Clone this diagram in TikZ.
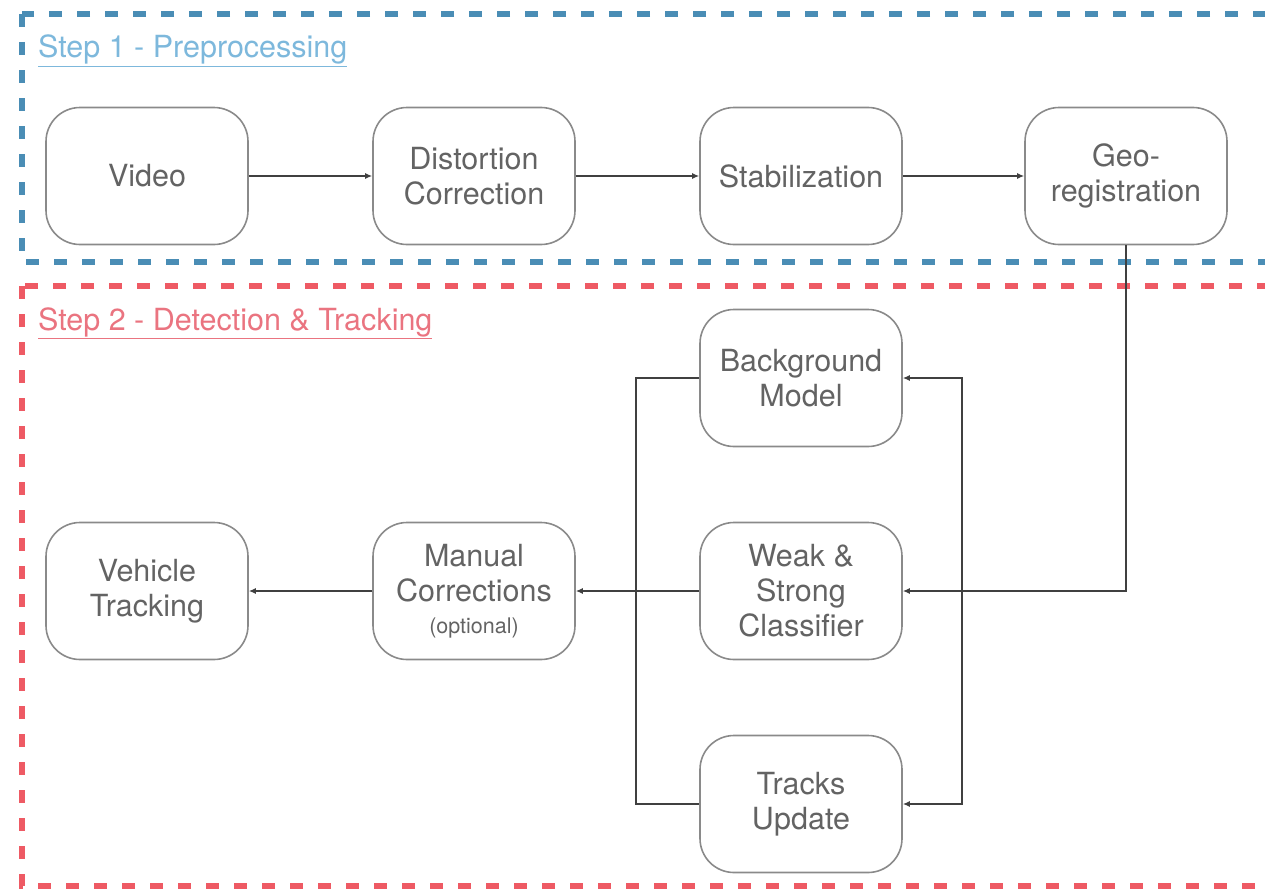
\documentclass[tikz,border=0pt]{standalone}
\usepackage{fontspec}
\setmainfont{TeX Gyre Heros}
\usetikzlibrary{arrows.meta}
\definecolor{boxgray}{HTML}{8A8A8A}
\definecolor{textgray}{HTML}{636363}
\definecolor{stepblue}{HTML}{4A8DB5}
\definecolor{stepred}{HTML}{EE5A64}
\definecolor{titleblue}{HTML}{7DB8DC}
\definecolor{titlered}{HTML}{EA7480}
\tikzset{
  stage/.style={draw=boxgray, line width=1.6pt, rounded corners=34pt,
    minimum width=202pt, minimum height=137pt, align=center,
    text=textgray, font=\fontsize{30.5}{35}\selectfont},
  link/.style={draw=black!75, line width=1.3pt, -{Latex[length=7pt,width=6pt]}},
  wire/.style={draw=black!75, line width=1.3pt},
  frame/.style={line width=6pt, dash pattern=on 13pt off 15pt},
  steptitle/.style={anchor=base west, inner sep=0pt, font=\fontsize{30.5}{35}\selectfont}
}
\begin{document}
\begin{tikzpicture}[x=1pt,y=-1pt]
  \useasboundingbox (0,0) rectangle (1265,891);
  \clip (0,0) rectangle (1265,891);
  % step frames
  \draw[frame, stepblue] (22,14) rectangle (1320,262);
  \draw[frame, stepred] (22,286) rectangle (1320,886);
  \node[steptitle, text=titleblue] (title1) at (38,58) {\underline{Step 1 - Preprocessing}};
  \node[steptitle, text=titlered] (title2) at (38,330) {\underline{Step 2 - Detection \& Tracking}};
  % step 1
  \node[stage] (video) at (147,176) {Video};
  \node[stage] (distortion) at (474,176) {Distortion\\Correction};
  \node[stage] (stabilization) at (801,176) {Stabilization};
  \node[stage] (georeg) at (1126,176) {Geo-\\registration};
  % step 2
  \node[stage] (background) at (801,378) {Background\\Model};
  \node[stage] (classifier) at (801,591) {Weak \&\\Strong\\Classifier};
  \node[stage] (tracks) at (801,804) {Tracks\\Update};
  \node[stage] (manual) at (474,591) {Manual\\Corrections\\[-3pt]{\fontsize{21.5}{24}\selectfont(optional)}};
  \node[stage] (vehicle) at (147,591) {Vehicle\\Tracking};
  \coordinate (split) at (962,591);
  \coordinate (mergetop) at (636,378);
  \coordinate (mergebot) at (636,804);
  % connectors
  \draw[link] (video) -- (distortion);
  \draw[link] (distortion) -- (stabilization);
  \draw[link] (stabilization) -- (georeg);
  \draw[link] (georeg.south) |- (classifier.east);
  \draw[link] (split) |- (background.east);
  \draw[link] (split) |- (tracks.east);
  \draw[wire] (background.west) -- (mergetop) -- (mergebot) -- (tracks.west);
  \draw[link] (classifier.west) -- (manual.east);
  \draw[link] (manual) -- (vehicle);
\end{tikzpicture}
\end{document}
